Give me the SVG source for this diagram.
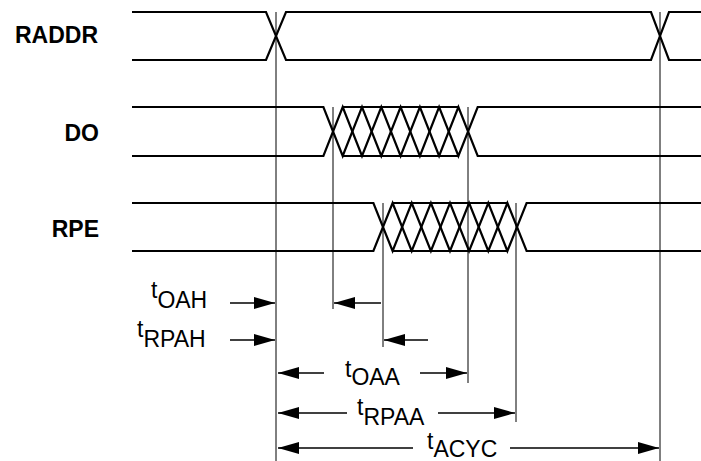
<svg xmlns="http://www.w3.org/2000/svg" width="701" height="461" viewBox="0 0 701 461">
<style>
.sig{fill:none;stroke:#000;stroke-width:2.2;stroke-linejoin:miter}
.vl{stroke:#000;stroke-width:1}
.ar{stroke:#000;stroke-width:1.3;marker-end:url(#ah)}
.lbl{font-family:"Liberation Sans",Arial,sans-serif;font-weight:bold;font-size:23px;text-anchor:end}
.tm{font-family:"Liberation Sans",Arial,sans-serif;font-size:23px}
</style>
<defs>
<marker id="ah" markerWidth="21" markerHeight="12" refX="21" refY="6" orient="auto" markerUnits="userSpaceOnUse"><path d="M0,0 L21,6 L0,12 z" fill="#000"/></marker>
</defs>
<rect width="701" height="461" fill="#fff"/>

<g id="raddr">
<text class="lbl" x="98" y="43">RADDR</text>
<path class="sig" d="M132,12 H266 L286,60 H651 L669,12 H701"/>
<path class="sig" d="M132,60 H266 L286,12 H651 L669,60 H701"/>
</g>

<g id="do">
<text class="lbl" x="99" y="141">DO</text>
<path class="sig" d="M132,107 H323.4 L342.7,156 L362,107 L381.3,156 L400.6,107 L419.9,156 L439.1,107 L458.4,156 L477.7,107 H701"/>
<path class="sig" d="M132,156 H323.4 L342.7,107 L362,156 L381.3,107 L400.6,156 L419.9,107 L439.1,156 L458.4,107 L477.7,156 H701"/>
<path class="sig" d="M342.7,107 H458.4 M342.7,156 H458.4"/>
</g>

<g id="rpe">
<text class="lbl" x="99" y="237">RPE</text>
<path class="sig" d="M132,203 H373.4 L392.6,251 L411.7,203 L430.9,251 L450,203 L469.1,251 L488.3,203 L507.4,251 L526.6,203 H701"/>
<path class="sig" d="M132,251 H373.4 L392.6,203 L411.7,251 L430.9,203 L450,251 L469.1,203 L488.3,251 L507.4,203 L526.6,251 H701"/>
<path class="sig" d="M392.6,203 H507.4 M392.6,251 H507.4"/>
</g>

<g id="connectors">
<line class="vl" x1="276" y1="12" x2="276" y2="461"/>
<line class="vl" x1="333" y1="107" x2="333" y2="309"/>
<line class="vl" x1="383" y1="203" x2="383" y2="347"/>
<line class="vl" x1="468" y1="107" x2="468" y2="383"/>
<line class="vl" x1="516" y1="203" x2="516" y2="422"/>
<line class="vl" x1="660" y1="12" x2="660" y2="461"/>

<line class="ar" x1="230" y1="303" x2="275" y2="303"/>
<line class="ar" x1="230" y1="340" x2="275" y2="340"/>
<line class="ar" x1="381" y1="303" x2="334" y2="303"/>
<line class="ar" x1="428" y1="340" x2="384" y2="340"/>

<line class="ar" x1="324" y1="373" x2="278" y2="373"/>
<line class="ar" x1="420" y1="373" x2="467" y2="373"/>
<line class="ar" x1="347" y1="413" x2="278" y2="413"/>
<line class="ar" x1="438" y1="413" x2="515" y2="413"/>
<line class="ar" x1="413" y1="448" x2="278" y2="448"/>
<line class="ar" x1="510" y1="448" x2="659" y2="448"/>
</g>

<g id="labels">
<text class="tm" x="151" y="298">t<tspan dy="10">OAH</tspan></text>
<text class="tm" x="137" y="337">t<tspan dy="10">RPAH</tspan></text>
<text class="tm" x="345" y="377">t<tspan dy="8">OAA</tspan></text>
<text class="tm" x="357" y="415">t<tspan dy="10">RPAA</tspan></text>
<text class="tm" x="427" y="449">t<tspan dy="8">ACYC</tspan></text>
</g>
</svg>
